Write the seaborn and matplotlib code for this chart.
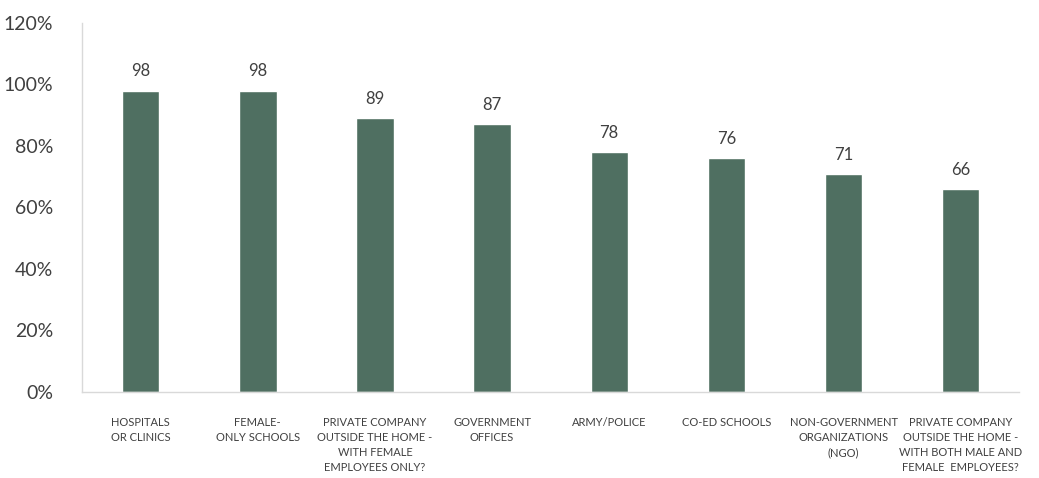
import matplotlib
matplotlib.use("Agg")
import matplotlib.pyplot as plt
import seaborn as sns
import pandas as pd
from matplotlib.ticker import PercentFormatter

# data
categories = [
    "HOSPITALS\nOR CLINICS",
    "FEMALE-\nONLY SCHOOLS",
    "PRIVATE COMPANY\nOUTSIDE THE HOME -\nWITH FEMALE\nEMPLOYEES ONLY?",
    "GOVERNMENT\nOFFICES",
    "ARMY/POLICE",
    "CO-ED SCHOOLS",
    "NON-GOVERNMENT\nORGANIZATIONS\n(NGO)",
    "PRIVATE COMPANY\nOUTSIDE THE HOME -\nWITH BOTH MALE AND\nFEMALE  EMPLOYEES?",
]
values = [98, 98, 89, 87, 78, 76, 71, 66]

df = pd.DataFrame({"category": categories, "pct": [v / 100 for v in values]})

sns.set_style("white")
plt.rcParams["font.family"] = ["Lato", "DejaVu Sans"]

fig = plt.figure(figsize=(10.39, 4.78), dpi=100)
ax = fig.add_axes([0.079, 0.18, 0.902, 0.772])

sns.barplot(data=df, x="category", y="pct", color="#4f6f61", saturation=1,
            width=0.32, ax=ax)

ax.bar_label(ax.containers[0], labels=[str(v) for v in values],
             padding=8, fontsize=12, color="#404040")

ax.set_ylim(0, 1.2)
ax.set_yticks([0, 0.2, 0.4, 0.6, 0.8, 1.0, 1.2])
ax.yaxis.set_major_formatter(PercentFormatter(1.0, decimals=0))
ax.set_xlim(-0.5, len(categories) - 0.5)

ax.set_xlabel("")
ax.set_ylabel("")
ax.tick_params(axis="y", length=0, pad=21, labelsize=14, labelcolor="#404040")
ax.tick_params(axis="x", length=0, pad=18, labelsize=8, labelcolor="#404040")
for lbl in ax.get_xticklabels():
    lbl.set_linespacing(1.45)
    lbl.set_multialignment("center")

for side in ["top", "right"]:
    ax.spines[side].set_visible(False)
for side in ["left", "bottom"]:
    ax.spines[side].set_color("#d9d9d9")
    ax.spines[side].set_linewidth(1)

fig.savefig("out.png", dpi=100)
